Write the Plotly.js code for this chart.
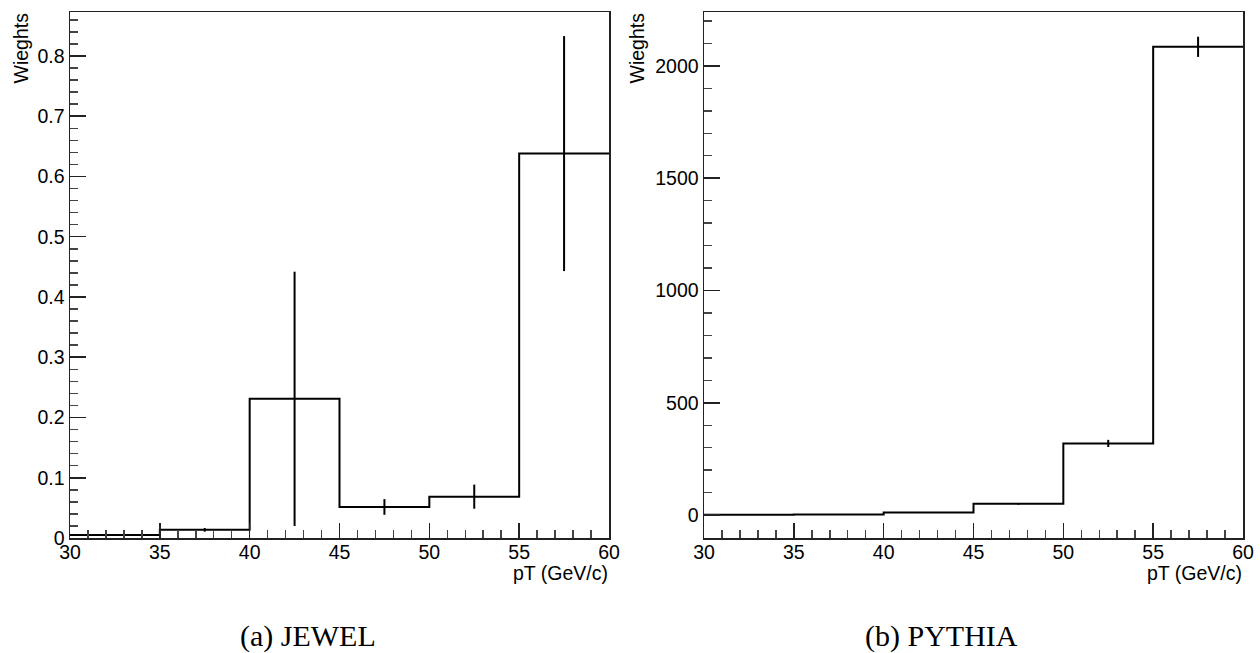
<!DOCTYPE html>
<html>
<head>
<meta charset="utf-8">
<script src="https://cdn.plot.ly/plotly-3.0.1.min.js"></script>
<style>
  html, body { margin: 0; padding: 0; background: #fff; }
  #chart { width: 1260px; height: 653px; }
</style>
</head>
<body>
<div id="chart"></div>
<script>
// ---- data ----
const binEdges = [30, 35, 40, 45, 50, 55, 60];

const jewelWeights = [0.005, 0.0135, 0.231, 0.0515, 0.0686, 0.638];
const jewelErrors  = [0.0015, 0.003, 0.211, 0.013, 0.020, 0.195];

const pythiaWeights = [1, 3, 12, 50, 319, 2085];
const pythiaErrors  = [0.5, 1, 2, 4, 16, 45];

const xTitle = "pT (GeV/c)";
const yTitle = "Wieghts";
const captions = ["(a) JEWEL", "(b) PYTHIA"];

// ---- helpers ----
const binCenters = binEdges.slice(0, -1).map((e, i) => (e + binEdges[i + 1]) / 2);

function histTrace(vals, xa, ya) {
  return {
    type: 'scatter', mode: 'lines', x: binEdges,
    y: vals.concat([vals[vals.length - 1]]),
    line: { shape: 'hv', color: '#000', width: 2 },
    xaxis: xa, yaxis: ya, hoverinfo: 'skip', showlegend: false
  };
}
function errTrace(vals, errs, xa, ya) {
  return {
    type: 'scatter', mode: 'markers', x: binCenters, y: vals,
    marker: { size: 1, color: 'rgba(0,0,0,0)' },
    error_y: { type: 'data', array: errs, visible: true, color: '#000', thickness: 2, width: 0 },
    xaxis: xa, yaxis: ya, hoverinfo: 'skip', showlegend: false
  };
}

const W = 1260, H = 653;
const px = v => v / W, py = v => 1 - v / H;

const tickFont = { family: 'Liberation Sans, Arial, sans-serif', size: 19.5, color: '#000' };

function xAxis(domain, anchor) {
  return {
    domain: domain, anchor: anchor, range: [30, 60],
    tickmode: 'linear', tick0: 30, dtick: 5,
    ticks: 'inside', ticklen: 15, tickwidth: 1.5, tickcolor: '#222',
    minor: { dtick: 1, ticks: 'inside', ticklen: 8, tickwidth: 1.5, tickcolor: '#444' },
    showline: true, linecolor: '#222', linewidth: 1.5, mirror: true,
    ticklabelstandoff: -4,
    showgrid: false, zeroline: false, tickfont: tickFont, fixedrange: true
  };
}
function yAxis(domain, anchor, range, dtick, minorDtick) {
  return {
    domain: domain, anchor: anchor, range: range,
    tickmode: 'linear', tick0: 0, dtick: dtick,
    ticks: 'inside', ticklen: 16, tickwidth: 1.5, tickcolor: '#222',
    minor: { dtick: minorDtick, tick0: 0, ticks: 'inside', ticklen: 8, tickwidth: 1.5, tickcolor: '#444' },
    showline: true, linecolor: '#222', linewidth: 1.5, mirror: true,
    showgrid: false, zeroline: false, tickfont: tickFont, fixedrange: true
  };
}

const yDom = [py(538), py(12)];

const data = [
  histTrace(jewelWeights, 'x', 'y'),
  errTrace(jewelWeights, jewelErrors, 'x', 'y'),
  histTrace(pythiaWeights, 'x2', 'y2'),
  errTrace(pythiaWeights, pythiaErrors, 'x2', 'y2')
];

const annFont = { family: 'Liberation Sans, Arial, sans-serif', size: 19.5, color: '#000' };
const capFont = { family: 'Liberation Serif, Times New Roman, serif', size: 30, color: '#000' };

const layout = {
  width: W, height: H,
  margin: { l: 0, r: 0, t: 0, b: 0 },
  paper_bgcolor: '#fff', plot_bgcolor: '#fff',
  showlegend: false,
  xaxis: xAxis([px(70), px(609)], 'y'),
  yaxis: yAxis(yDom, 'x', [0, 0.873], 0.1, 0.02),
  xaxis2: xAxis([px(704), px(1243)], 'y2'),
  yaxis2: yAxis(yDom, 'x2', [-102, 2240], 500, 100),
  annotations: [
    { xref: 'paper', yref: 'paper', x: px(21), y: py(11), xanchor: 'center', yanchor: 'top',
      text: yTitle, textangle: -90, showarrow: false, font: annFont },
    { xref: 'paper', yref: 'paper', x: px(637), y: py(11), xanchor: 'center', yanchor: 'top',
      text: yTitle, textangle: -90, showarrow: false, font: annFont },
    { xref: 'paper', yref: 'paper', x: px(610), y: py(573), xanchor: 'right', yanchor: 'middle',
      text: xTitle, showarrow: false, font: annFont },
    { xref: 'paper', yref: 'paper', x: px(1244), y: py(573), xanchor: 'right', yanchor: 'middle',
      text: xTitle, showarrow: false, font: annFont },
    { xref: 'paper', yref: 'paper', x: px(308), y: py(636), xanchor: 'center', yanchor: 'middle',
      text: captions[0], showarrow: false, font: capFont },
    { xref: 'paper', yref: 'paper', x: px(941), y: py(636), xanchor: 'center', yanchor: 'middle',
      text: captions[1], showarrow: false, font: capFont }
  ]
};

Plotly.newPlot('chart', data, layout, { staticPlot: true, displayModeBar: false });
</script>
</body>
</html>
